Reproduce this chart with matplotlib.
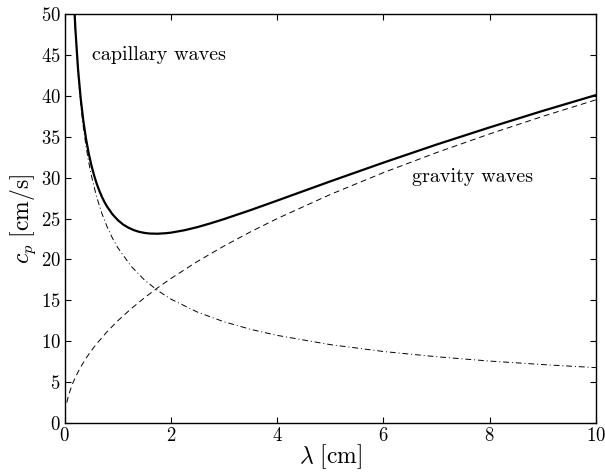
import numpy as np
import matplotlib
matplotlib.use("Agg")
import matplotlib.pyplot as plt

plt.rcParams['font.family'] = ['cmr10', 'DejaVu Serif']
plt.rcParams['mathtext.fontset'] = 'cm'
plt.rcParams['axes.formatter.use_mathtext'] = True

#wavelength [cm] and phase speeds [cm/s]
lam_t = [0.15, 0.175, 0.2, 0.25, 0.3, 0.35, 0.4, 0.45, 0.5, 0.55, 0.6, 0.65, 0.7, 0.75,
         0.8, 0.9, 1.0, 1.1, 1.2, 1.3, 1.4, 1.5, 1.6, 1.75, 1.9, 2.0, 2.25, 2.5, 2.75,
         3.0, 3.5, 4.0, 5.0, 6.0, 7.0, 8.0, 9.0, 10.0]
c_total = [55.51, 51.46, 48.22, 43.29, 39.70, 36.95, 34.77, 33.01, 31.55, 30.33, 29.29,
           28.41, 27.65, 26.99, 26.43, 25.50, 24.80, 24.26, 23.87, 23.58, 23.37, 23.24,
           23.16, 23.14, 23.20, 23.27, 23.56, 23.95, 24.42, 24.93, 26.03, 27.19, 29.54,
           31.83, 34.04, 36.14, 38.16, 40.09]

lam_c = [0.15, 0.175, 0.2, 0.25, 0.3, 0.35, 0.4, 0.45, 0.5, 0.6, 0.7, 0.8, 0.9,
         1.0, 1.25, 1.5, 1.75, 2.0, 2.5, 3.0, 3.5, 4.0, 5.0, 6.0, 7.0, 8.0, 9.0, 10.0]
c_capillary = [55.30, 51.20, 47.89, 42.83, 39.10, 36.20, 33.86, 31.93, 30.29, 27.65, 25.60,
               23.95, 22.58, 21.42, 19.16, 17.49, 16.19, 15.14, 13.55, 12.37, 11.45, 10.71,
               9.58, 8.74, 8.10, 7.57, 7.14, 6.77]

lam_g = [0.04, 0.06, 0.1, 0.15, 0.2, 0.3, 0.4, 0.5, 0.6, 0.8, 1.0, 1.25, 1.5, 1.75,
         2.0, 2.5, 3.0, 3.5, 4.0, 5.0, 6.0, 7.0, 8.0, 9.0, 10.0]
c_gravity = [2.50, 3.06, 3.95, 4.84, 5.59, 6.84, 7.90, 8.84, 9.68, 11.18, 12.50, 13.97,
             15.30, 16.53, 17.67, 19.76, 21.64, 23.38, 24.99, 27.94, 30.61, 33.06, 35.34,
             37.49, 39.51]

fig = plt.figure(figsize=(6.05, 4.75), dpi=100)
ax = fig.add_axes([0.107, 0.1095, 0.878, 0.861])

ax.plot(lam_t, c_total, color='black', linewidth=1.6)
ax.plot(lam_g, c_gravity, color='black', linewidth=0.7, linestyle=(0, (6, 4)))
ax.plot(lam_c, c_capillary, color='black', linewidth=0.7, linestyle=(0, (6, 3, 1, 3)))

ax.text(0.51, 45.0, 'capillary waves', fontsize=14.5, va='center')
ax.text(6.53, 30.1, 'gravity waves', fontsize=14.5, va='center')

ax.set_xlim(0, 10)
ax.set_ylim(0, 50)
ax.set_xticks([0, 2, 4, 6, 8, 10])
ax.set_yticks(np.arange(0, 51, 5))
ax.tick_params(direction='in', top=True, right=True, labelsize=13.5, length=4, pad=3)
for s in ax.spines.values():
    s.set_linewidth(1.0)

ax.set_xlabel(r'$\lambda\ [\mathrm{cm}]$', fontsize=17, labelpad=-2)
ax.set_ylabel(r'$c_p\ [\mathrm{cm/s}]$', fontsize=17, labelpad=2)

fig.savefig('out.png', dpi=100)
